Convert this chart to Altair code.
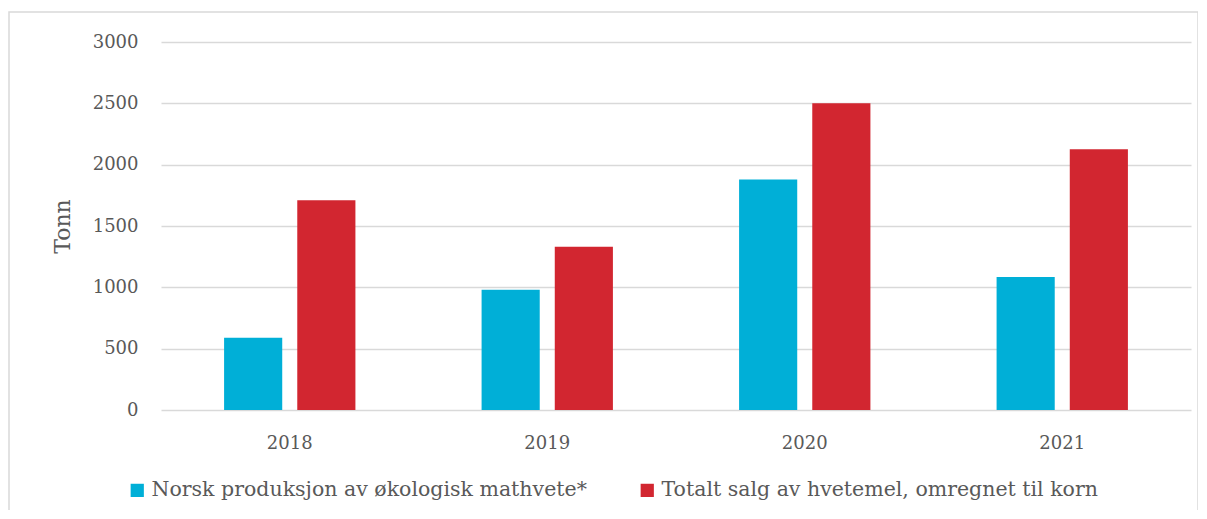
import altair as alt
import pandas as pd

years = ["2018", "2019", "2020", "2021"]
series = ["Norsk produksjon av økologisk mathvete*", "Totalt salg av hvetemel, omregnet til korn"]
norsk = [590, 980, 1880, 1085]
totalt = [1710, 1330, 2500, 2125]
colors = ["#00AFD7", "#D22630"]

rows = []
for i, y in enumerate(years):
    rows.append({"year": y, "series": series[0], "value": norsk[i]})
    rows.append({"year": y, "series": series[1], "value": totalt[i]})
df = pd.DataFrame(rows)

FONT = "DejaVu Serif"
TXT = "#595959"

frame = alt.Chart(pd.DataFrame({"a": [0]})).mark_rect(
    fill="transparent", stroke="#d9d9d9", strokeWidth=1.5
).encode(
    x=alt.value(-152), x2=alt.value(1037), y=alt.value(-30), y2=alt.value(480)
)

bars = alt.Chart(df).mark_bar().encode(
    x=alt.X("year:N", sort=years,
            scale=alt.Scale(paddingInner=0.49, paddingOuter=0.245),
            axis=alt.Axis(title=None, labelAngle=0, domain=False, ticks=False,
                          grid=False,
                          labelPadding=24, labelFontSize=18, labelColor=TXT,
                          labelFont=FONT)),
    xOffset=alt.XOffset("series:N", sort=series,
                        scale=alt.Scale(paddingInner=0.2055, paddingOuter=0)),
    y=alt.Y("value:Q", scale=alt.Scale(domain=[0, 3000], nice=False),
            axis=alt.Axis(title="Tonn", values=[0, 500, 1000, 1500, 2000, 2500, 3000],
                          format="d",
                          domain=False, ticks=False, labelPadding=23,
                          labelFontSize=18, labelColor=TXT, labelFont=FONT,
                          gridColor="#d9d9d9", gridWidth=1.5,
                          titleFont=FONT, titleFontSize=22, titleColor=TXT,
                          titleFontWeight="normal", titleAngle=270,
                          titleX=-99, titleY=184, titleAlign="center",
                          titleBaseline="middle")),
    color=alt.Color("series:N", sort=series,
                    scale=alt.Scale(domain=series, range=colors),
                    legend=alt.Legend(title=None, orient="none", direction="horizontal",
                                      legendX=-34, legendY=438,
                                      symbolType="square", symbolSize=175,
                                      symbolStrokeWidth=0, labelFont=FONT,
                                      labelFontSize=20.5, labelColor=TXT,
                                      columnPadding=50, labelOffset=4,
                                      labelLimit=700)),
)

chart = alt.layer(frame, bars).properties(
    width=1030, height=368,
    autosize=alt.AutoSizeParams(type="none"),
    padding={"left": 153, "top": 34, "right": 7, "bottom": 100},
    view=alt.ViewBackground(strokeWidth=0),
).configure_view(strokeWidth=0).configure(background="white")

chart.save("out.html", embed_options={"renderer": "svg", "actions": False})
